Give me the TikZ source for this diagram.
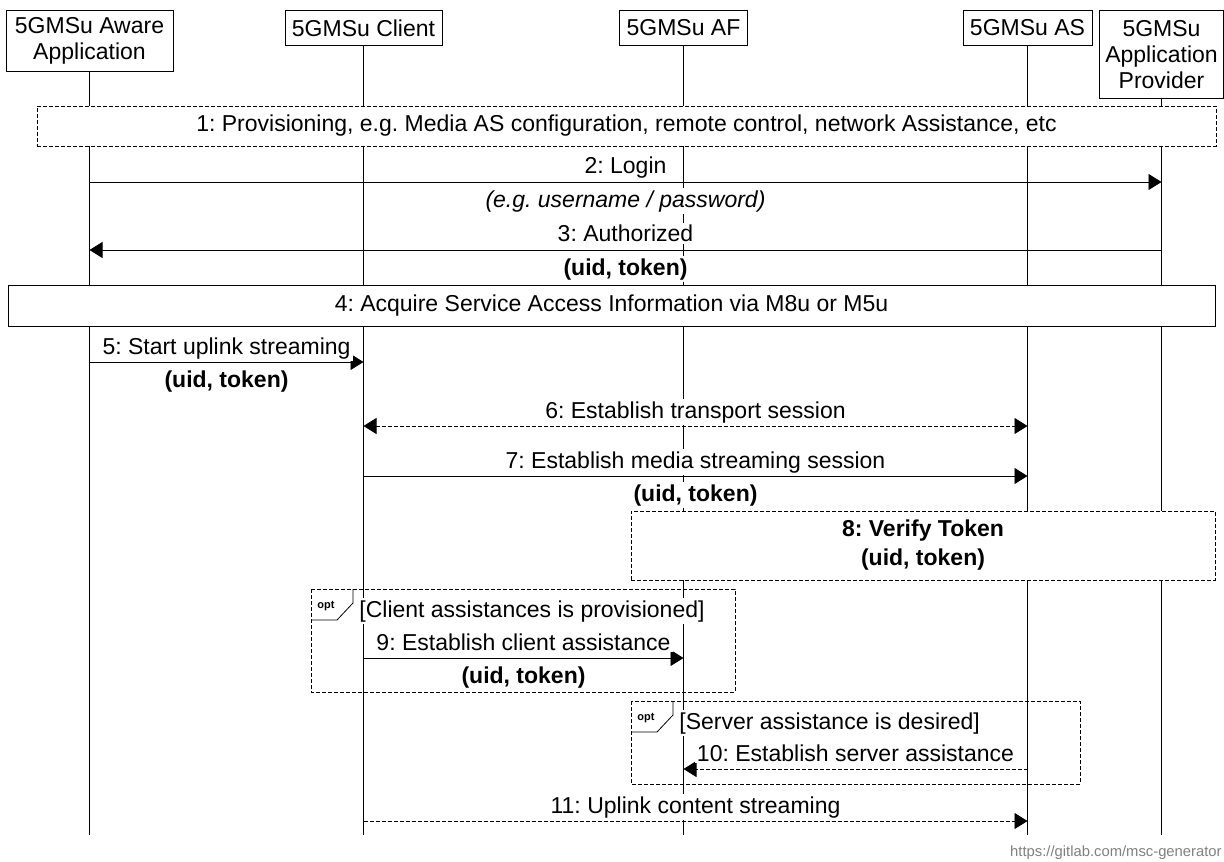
\documentclass[tikz,border=0pt]{standalone}
\usepackage{fontspec}
\setmainfont{Liberation Sans}
\usetikzlibrary{arrows.meta}
\newcommand{\msgfont}{\fontsize{11.5}{13}\selectfont\frenchspacing}
\tikzset{
  msgarr/.style={-{Triangle[length=6.5pt, width=8pt]}, thin},
  msgdash/.style={msgarr, dash pattern=on 2pt off 1pt},
  msgboth/.style={{Triangle[length=6.5pt, width=8pt]}-{Triangle[length=6.5pt, width=8pt]}, thin, dash pattern=on 2pt off 1pt},
  msglabel/.style={anchor=base, yshift=4pt, fill=white, inner sep=1pt, font=\msgfont},
  msgparam/.style={anchor=base, yshift=-12.5pt, fill=white, inner sep=1pt, font=\msgfont\bfseries},
}

\begin{document}
\begin{tikzpicture}[
  x=0.5pt, y=-0.5pt,
  font=\msgfont,
  head/.style={draw, thin, fill=white, align=center, anchor=north, inner xsep=3.5pt, inner ysep=0pt, font=\msgfont},
  bar/.style={draw, thin, fill=white, align=center, inner sep=0pt, font=\msgfont},
  optframe/.style={draw, thin, dash pattern=on 2pt off 1pt},
  opttag/.style={font=\fontsize{5.5}{6}\selectfont\bfseries, inner sep=0pt},
  cond/.style={anchor=base west, fill=white, inner sep=1pt, font=\msgfont},
]
  \useasboundingbox (0,0) rectangle (1224,861);

  % Entity heads
  \node[head, minimum height=30.5pt, inner xsep=4.5pt] (app) at (89.5,10) {5GMSu Aware\\Application};
  \node[head, minimum height=17.5pt] (client) at (363.5,10) {5GMSu Client};
  \node[head, minimum height=17.5pt] (af) at (683.5,10) {5GMSu AF};
  \node[head, minimum height=17.5pt] (as) at (1027.5,10) {5GMSu AS};
  \node[head, minimum height=44pt, inner xsep=3pt] (prov) at (1161.5,10) {5GMSu\\Application\\Provider};

  % Lifelines
  \foreach \n in {app,client,af,as,prov}
    \draw[thin] (\n.south) -- (\n |- 0,835);

  % Provisioning
  \node[bar, dash pattern=on 2pt off 1pt, minimum width=589.5pt, minimum height=20pt] (prov1) at (626.5,126)
    {1: Provisioning, e.g. Media AS configuration, remote control, network Assistance, etc};

  \draw[msgarr] (app |- 0,182) -- node[msglabel] (m2) {2: Login}
    node[msgparam, font=\msgfont\itshape] (m2p) {(e.g. username / password)} (prov |- 0,182);
  \draw[msgarr] (prov |- 0,250) -- node[msglabel] (m3) {3: Authorized}
    node[msgparam] (m3p) {(uid, token)} (app |- 0,250);

  \node[bar, minimum width=603.5pt, minimum height=20.5pt] (acq4) at (611.5,305.5)
    {4: Acquire Service Access Information via M8u or M5u};

  % Streaming setup
  \draw[msgarr] (app |- 0,362) -- node[msglabel] (m5) {5: Start uplink streaming}
    node[msgparam] (m5p) {(uid, token)} (client |- 0,362);
  \draw[msgboth] (client |- 0,426) -- node[msglabel] (m6) {6: Establish transport session} (as |- 0,426);
  \draw[msgarr] (client |- 0,476) -- node[msglabel] (m7) {7: Establish media streaming session}
    node[msgparam] (m7p) {(uid, token)} (as |- 0,476);

  \node[bar, dash pattern=on 2pt off 1pt, minimum width=292pt, minimum height=34.5pt, font=\msgfont\bfseries] (verify8) at (923,545.5)
    {8: Verify Token\\[1.5pt](uid, token)};

  % Optional client assistance
  \draw[optframe] (311,589) rectangle (735,692);
  \draw[thin] (311,620) -- (337,620) -- (353,603) -- (353,589);
  \node[opttag] (opt1) at (326,606) {opt};
  \node[cond] (c1) at (357,617) {[Client assistances is provisioned]};
  \draw[msgarr] (client |- 0,658) -- node[msglabel] (m9) {9: Establish client assistance}
    node[msgparam] (m9p) {(uid, token)} (af |- 0,658);

  % Optional server assistance
  \draw[optframe] (631,701) rectangle (1080,784);
  \draw[thin] (631,732) -- (657,732) -- (673,715) -- (673,701);
  \node[opttag] (opt2) at (646,718) {opt};
  \node[cond] (c2) at (677,729) {[Server assistance is desired]};
  \draw[msgdash] (as |- 0,769) -- node[msglabel] (m10) {10: Establish server assistance} (af |- 0,769);

  \draw[msgdash] (client |- 0,821) -- node[msglabel] (m11) {11: Uplink content streaming} (as |- 0,821);

  \node[anchor=base east, inner sep=0pt, text=black!50, font=\fontsize{7.4}{9}\selectfont] (url) at (1222,856)
    {https://gitlab.com/msc-generator};
\end{tikzpicture}
\end{document}
